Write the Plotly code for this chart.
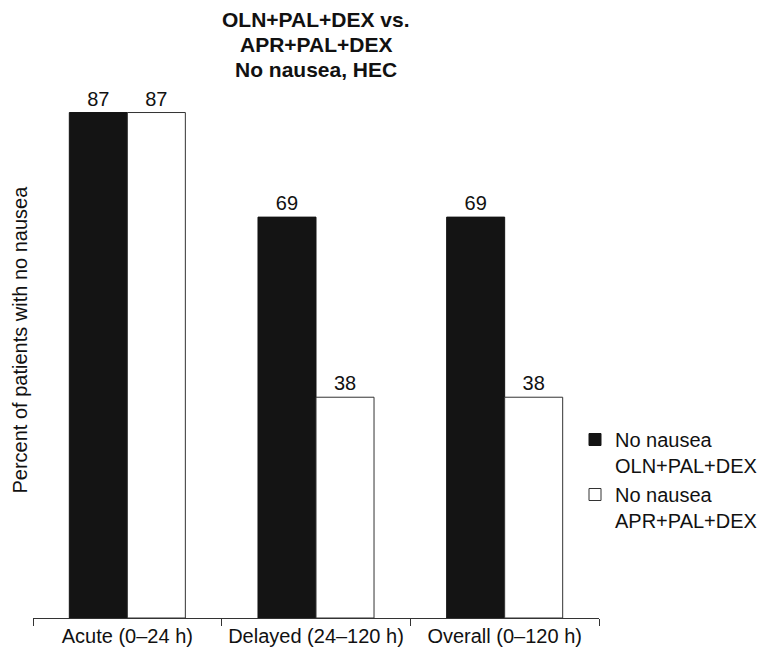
import plotly.graph_objects as go

# Time windows on the x axis
categories = ["Acute (0\u201324 h)", "Delayed (24\u2013120 h)", "Overall (0\u2013120 h)"]

# Percent of patients with no nausea, per regimen
oln_values = [87, 69, 69]
apr_values = [87, 38, 38]

series_names = ["No nausea<br>OLN+PAL+DEX", "No nausea<br>APR+PAL+DEX"]
title_lines = ["OLN+PAL+DEX vs.", "APR+PAL+DEX", "No nausea, HEC"]
y_title = "Percent of patients with no nausea"

FONT = "Liberation Sans, Arial, sans-serif"
W, H = 757, 651
M_L, M_R, M_T, M_B = 33, 158, 37, 33
plot_h = H - M_T - M_B


def paper_y(px):
    """Convert a pixel row (from the top of the page) to paper coordinates."""
    return (H - M_B - px) / plot_h


fig = go.Figure()
fig.add_trace(go.Bar(
    x=categories, y=oln_values, name=series_names[0],
    marker=dict(color="#141414", line=dict(color="#141414", width=1)),
    text=oln_values, textposition="outside",
    textfont=dict(size=20, color="#111111", family=FONT),
    cliponaxis=False,
))
fig.add_trace(go.Bar(
    x=categories, y=apr_values, name=series_names[1],
    marker=dict(color="#ffffff", line=dict(color="#333333", width=1)),
    text=apr_values, textposition="outside",
    textfont=dict(size=20, color="#111111", family=FONT),
    cliponaxis=False,
))

annotations = []
for i, line in enumerate(title_lines):
    annotations.append(dict(
        text=f"<b>{line}</b>", xref="paper", yref="paper",
        x=0.5, y=paper_y(19.5 + 25 * i), xanchor="center", yanchor="middle",
        showarrow=False, font=dict(size=21, color="#111111", family=FONT),
    ))
annotations.append(dict(
    text=y_title, xref="paper", yref="paper", x=0, y=paper_y(340),
    xanchor="center", yanchor="middle", xshift=-13.5, textangle=-90,
    showarrow=False, font=dict(size=20, color="#111111", family=FONT),
))

fig.update_layout(
    width=W, height=H,
    margin=dict(l=M_L, r=M_R, t=M_T, b=M_B, autoexpand=False),
    paper_bgcolor="white", plot_bgcolor="white",
    barmode="group", bargap=0.385, bargroupgap=0,
    font=dict(family=FONT, size=20, color="#111111"),
    showlegend=True,
    legend=dict(
        x=(575 - M_L) / (W - M_L - M_R), xanchor="left",
        y=paper_y(420), yanchor="top",
        valign="top", font=dict(size=20, color="#111111", family=FONT),
        bgcolor="rgba(0,0,0,0)", tracegroupgap=6,
    ),
    annotations=annotations,
    hovermode=False,
)
fig.update_xaxes(
    range=[-0.5, 2.5], showline=True, linecolor="#333333", linewidth=1,
    ticks="outside", tickson="boundaries", ticklen=7, tickcolor="#333333",
    showgrid=False, automargin=False,
    tickfont=dict(size=20, color="#111111", family=FONT),
)
fig.update_yaxes(
    range=[0, 100], visible=False, showgrid=False, zeroline=False,
)

fig.write_html("out.html")
